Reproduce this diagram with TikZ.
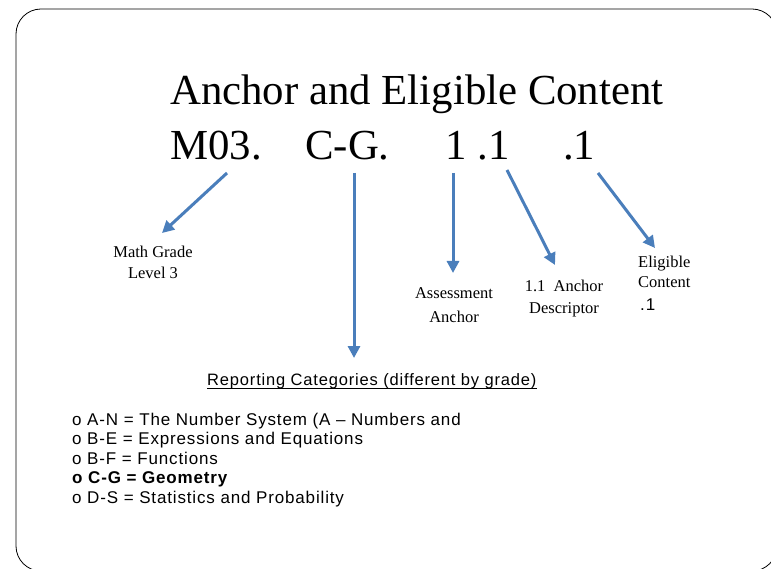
\documentclass[tikz,border=0pt]{standalone}
\usepackage{fontspec}
\setmainfont{Liberation Serif}
\newfontfamily\listfont[LetterSpace=5]{Liberation Sans}
\usetikzlibrary{arrows.meta}
\definecolor{arrowblue}{RGB}{74,126,187}
\tikzset{
  big/.style={font=\fontsize{42.8}{50}\selectfont, inner sep=0, anchor=base west},
  lbl/.style={font=\fontsize{16.5}{20}\selectfont, inner sep=0, anchor=base},
  lblw/.style={font=\fontsize{16.5}{20}\selectfont, inner sep=0, anchor=base west},
  lst/.style={font=\listfont\fontsize{17}{20}\selectfont, inner sep=0, anchor=base west},
  arr/.style={arrowblue, line width=3pt, -{Triangle[length=12pt,width=12pt]}},
  frame/.style={black, line width=0.8pt, rounded corners=25pt},
}
\begin{document}
\begin{tikzpicture}[x=1pt,y=-1pt]
\useasboundingbox (0,0) rectangle (771,569);
\fill[white] (0,0) rectangle (771,569);
\draw[frame] (16,9) rectangle (777,571);

% title
\node[big] (title) at (170,105) {Anchor and Eligible Content};
\node[big] (m03) at (170,160) {M03.};
\node[big] (cg) at (305,160) {C-G.};
\node[big] (one) at (445,160) {1 .1};
\node[big] (pt1) at (563,160) {.1};

% arrow coordinates
\coordinate (s1) at (227,173); \coordinate (e1) at (162,233);
\coordinate (s2) at (354,173); \coordinate (e2) at (354,358);
\coordinate (s3) at (453,173); \coordinate (e3) at (453,273);
\coordinate (s4) at (507,170); \coordinate (e4) at (555,265);
\coordinate (s5) at (598,173); \coordinate (e5) at (655,248);
\draw[arr] (s1) -- (e1);
\draw[arr] (s2) -- (e2);
\draw[arr] (s3) -- (e3);
\draw[arr] (s4) -- (e4);
\draw[arr] (s5) -- (e5);

% labels
\node[lbl] (mg1) at (153,258) {Math Grade};
\node[lbl] (mg2) at (153,279) {Level 3};
\node[lbl] (aa1) at (454,299) {Assessment};
\node[lbl] (aa2) at (454,323) {Anchor};
\node[lbl] (ad1) at (564,292) {1.1\ \ Anchor};
\node[lbl] (ad2) at (564,313) {Descriptor};
\node[lblw] (ec1) at (638,268) {Eligible};
\node[lblw] (ec2) at (638,288) {Content};
\node[lst] (ec3) at (640,311) {.1};

% reporting categories
\node[lst, font=\listfont\fontsize{16.5}{20}\selectfont] (rc) at (207,385) {Reporting Categories (different by grade)};
\draw[line width=0.8pt] ([yshift=-3pt]rc.base west) -- ([yshift=-3pt]rc.base east);

\node[lst] (l1) at (72,425) {o A-N = The Number System (A \textendash{} Numbers and};
\node[lst] (l2) at (72,444.5) {o B-E = Expressions and Equations};
\node[lst] (l3) at (72,464) {o B-F = Functions};
\node[lst, font=\listfont\bfseries\fontsize{17}{20}\selectfont] (l4) at (72,483.5) {o C-G = Geometry};
\node[lst] (l5) at (72,503) {o D-S = Statistics and Probability};
\end{tikzpicture}
\end{document}
